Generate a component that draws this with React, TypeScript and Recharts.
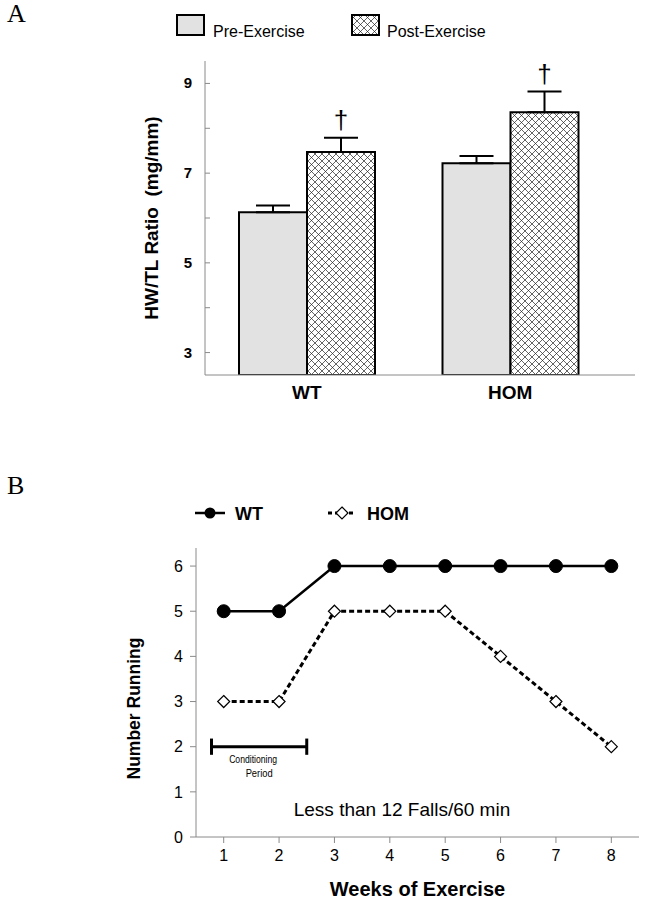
import React from "react";
import {
  BarChart,
  Bar,
  ErrorBar,
  XAxis,
  YAxis,
  LineChart,
  Line,
  ReferenceLine,
  ReferenceDot,
} from "recharts";

// panel A: heart weight / tibia length
const groups = ["WT", "HOM"];
const preExercise = [6.13, 7.22];
const preErr = [0.15, 0.16];
const postExercise = [7.47, 8.36];
const postErr = [0.32, 0.46];
const ratioTicks = [3, 4, 5, 6, 7, 8, 9];
const ratioDomain: [number, number] = [2.5, 9.5];

// panel B: number of mice still running
const weeks = [1, 2, 3, 4, 5, 6, 7, 8];
const wtRunning = [5, 5, 6, 6, 6, 6, 6, 6];
const homRunning = [3, 3, 5, 5, 5, 4, 3, 2];
const countTicks = [0, 1, 2, 3, 4, 5, 6];

const FONT = '"Liberation Sans", Arial, sans-serif';
const FRAME = "#8a8a8a";

const barData = groups.map((g, i) => ({
  group: g,
  pre: preExercise[i],
  preErr: [0, preErr[i]],
  post: postExercise[i],
  postErr: [0, postErr[i]],
}));

const lineData = weeks.map((w, i) => ({ week: w, wt: wtRunning[i], hom: homRunning[i] }));

// left axis of A: inward ticks, labels on odd values only
const RatioTick = (props: any) => {
  const { x, y, payload } = props;
  const axisX = x + 13;
  return (
    <g>
      <line x1={axisX} x2={axisX + 5} y1={y} y2={y} stroke={FRAME} />
      {payload.value % 2 === 1 && (
        <text x={x} y={y} dy={5} textAnchor="end" fontSize={15} fontWeight="bold" fill="#000">
          {payload.value}
        </text>
      )}
    </g>
  );
};

// dagger over the post-exercise error bars
const renderDagger = (props: any) => {
  const vb = props.viewBox ?? props;
  const { x, width } = vb;
  let { y, height } = vb;
  if (height < 0) {
    y = y + height;
    height = -height;
  }
  const i = typeof props.index === "number" ? props.index : postExercise.indexOf(props.value);
  const pxPerUnit = height / (postExercise[i] - ratioDomain[0]);
  const top = y - postErr[i] * pxPerUnit;
  return (
    <text key={`dag-${i}`} x={x + width / 2} y={top - 9} textAnchor="middle" fontSize={26} fill="#000">
      †
    </text>
  );
};

const renderDiamond = (props: any) => {
  const { cx, cy, index } = props;
  if (cx == null || cy == null) return <g key={`dm-${index}`} />;
  const s = 6;
  return (
    <polygon
      key={`dm-${index}`}
      points={`${cx},${cy - s} ${cx + s},${cy} ${cx},${cy + s} ${cx - s},${cy}`}
      fill="#fff"
      stroke="#000"
      strokeWidth={1.2}
    />
  );
};

const renderCondText = (props: any) => {
  const vb = props.viewBox;
  const cx = vb.x + vb.width / 2;
  return (
    <g>
      <text x={cx - 6} y={vb.y + 16} textAnchor="middle" fontSize={11} textLength={48} lengthAdjust="spacingAndGlyphs" fill="#000">
        Conditioning
      </text>
      <text x={cx} y={vb.y + 30} textAnchor="middle" fontSize={11} textLength={27} lengthAdjust="spacingAndGlyphs" fill="#000">
        Period
      </text>
    </g>
  );
};

const renderYLabel = (text: string, dx: number, dy: number, size: number) => (props: any) => {
  const vb = props.viewBox;
  const cx = vb.x + dx;
  const cy = vb.y + vb.height / 2 + dy;
  return (
    <text x={cx} y={cy} transform={`rotate(-90 ${cx} ${cy})`} textAnchor="middle" dominantBaseline="middle" fontSize={size} fontWeight="bold" fill="#000">
      {text}
    </text>
  );
};

const panelLetter = (letter: string, top: number) => (
  <div style={{ position: "absolute", left: 7, top, fontFamily: '"Liberation Serif", "Times New Roman", serif', fontSize: 26, lineHeight: "26px" }}>
    {letter}
  </div>
);

export default function App() {
  return (
    <div style={{ position: "absolute", left: 0, top: 0, width: 646, height: 906, background: "#fff", fontFamily: FONT }}>
      {panelLetter("A", 1)}
      {panelLetter("B", 473)}

      {/* legend A */}
      <svg style={{ position: "absolute", left: 0, top: 0 }} width={646} height={50}>
        <rect x={177} y={15} width={27} height={20} fill="#e2e2e2" stroke="#000" strokeWidth={2} />
        <text x={213} y={37} fontSize={16} fill="#000">Pre-Exercise</text>
        <rect x={352} y={15} width={27} height={20} fill="url(#xhatchLegend)" stroke="#000" strokeWidth={2} />
        <text x={387} y={37} fontSize={16} fill="#000">Post-Exercise</text>
        <defs>
          <pattern id="xhatchLegend" patternUnits="userSpaceOnUse" width={7} height={7}>
            <rect width={7} height={7} fill="#fff" />
            <path d="M-1,-1 L8,8 M8,-1 L-1,8" stroke="#222" strokeWidth={0.7} />
          </pattern>
        </defs>
      </svg>

      <div style={{ position: "absolute", left: 0, top: 0 }}>
        <BarChart width={646} height={420} data={barData} margin={{ top: 61, right: 11, left: 150, bottom: 0 }} barGap={0}>
          <defs>
            <pattern id="xhatch" patternUnits="userSpaceOnUse" width={7} height={7}>
              <rect width={7} height={7} fill="#fff" />
              <path d="M-1,-1 L8,8 M8,-1 L-1,8" stroke="#222" strokeWidth={0.7} />
            </pattern>
          </defs>
          <XAxis
            dataKey="group"
            height={45}
            padding={{ left: 0, right: 23 }}
            tickLine={false}
            tickSize={0}
            tickMargin={11}
            axisLine={{ stroke: FRAME }}
            tick={{ fill: "#000", fontSize: 19, fontWeight: "bold" }}
          />
          <XAxis xAxisId="top" dataKey="group" orientation="top" height={0} tick={false} tickLine={false} axisLine={{ stroke: FRAME }} />
          <YAxis
            width={55}
            type="number"
            domain={ratioDomain}
            allowDataOverflow
            ticks={ratioTicks}
            interval={0}
            tickSize={0}
            tickMargin={13}
            tickLine={false}
            axisLine={{ stroke: FRAME }}
            tick={<RatioTick />}
            label={{ content: renderYLabel("HW/TL Ratio\u00a0 (mg/mm)", 3, 0, 19) }}
          />
          <YAxis yAxisId="right" orientation="right" width={0} type="number" domain={ratioDomain} tick={false} tickLine={false} axisLine={{ stroke: FRAME }} />
          <Bar dataKey="pre" barSize={68} fill="#e2e2e2" stroke="#000" strokeWidth={2} isAnimationActive={false}>
            <ErrorBar dataKey="preErr" width={17} stroke="#000" strokeWidth={2} direction="y" />
          </Bar>
          <Bar dataKey="post" barSize={68} fill="url(#xhatch)" stroke="#000" strokeWidth={2} isAnimationActive={false} label={renderDagger}>
            <ErrorBar dataKey="postErr" width={17} stroke="#000" strokeWidth={2} direction="y" />
          </Bar>
        </BarChart>
      </div>

      {/* legend B */}
      <svg style={{ position: "absolute", left: 0, top: 495 }} width={646} height={40}>
        <line x1={195} x2={225} y1={18} y2={18} stroke="#000" strokeWidth={2.5} />
        <circle cx={210} cy={18} r={5.5} fill="#000" />
        <text x={235} y={25} fontSize={18} fontWeight="bold" fill="#000">WT</text>
        <line x1={328} x2={356} y1={18} y2={18} stroke="#000" strokeWidth={3} strokeDasharray="4 3" />
        <polygon points="342,12 348,18 342,24 336,18" fill="#fff" stroke="#000" strokeWidth={1.2} />
        <text x={367} y={25} fontSize={18} fontWeight="bold" fill="#000">HOM</text>
      </svg>

      <div style={{ position: "absolute", left: 0, top: 420 }}>
        <LineChart width={646} height={486} data={lineData} margin={{ top: 128, right: 7, left: 120, bottom: 0 }}>
          <XAxis
            dataKey="week"
            type="number"
            domain={[0.5, 8.5]}
            allowDataOverflow
            ticks={weeks}
            interval={0}
            height={69}
            tickSize={6}
            tickMargin={7}
            stroke={FRAME}
            tick={{ fill: "#000", fontSize: 16 }}
            label={{ value: "Weeks of Exercise", position: "insideBottom", offset: 10, fontSize: 20, fontWeight: "bold", fill: "#000" }}
          />
          <XAxis xAxisId="top" dataKey="week" type="number" orientation="top" domain={[0.5, 8.5]} height={0} tick={false} tickLine={false} stroke={FRAME} />
          <YAxis
            width={76}
            type="number"
            domain={[0, 6.4]}
            allowDataOverflow
            ticks={countTicks}
            interval={0}
            tickSize={6}
            tickMargin={7}
            stroke={FRAME}
            tick={{ fill: "#000", fontSize: 16 }}
            label={{ content: renderYLabel("Number Running", 15, 16, 17.5) }}
          />
          <YAxis yAxisId="right" orientation="right" width={0} type="number" domain={[0, 6.4]} tick={false} tickLine={false} stroke={FRAME} />
          <ReferenceLine segment={[{ x: 0.78, y: 2 }, { x: 2.5, y: 2 }]} stroke="#000" strokeWidth={3} label={{ content: renderCondText }} />
          <ReferenceLine segment={[{ x: 0.78, y: 1.82 }, { x: 0.78, y: 2.18 }]} stroke="#000" strokeWidth={3} />
          <ReferenceLine segment={[{ x: 2.5, y: 1.82 }, { x: 2.5, y: 2.18 }]} stroke="#000" strokeWidth={3} />
          <ReferenceDot
            x={4.22}
            y={0.61}
            r={0}
            fill="none"
            stroke="none"
            label={{ value: "Less than 12 Falls/60 min", position: "center", fontSize: 19, fill: "#000" }}
          />
          <Line type="linear" dataKey="wt" stroke="#000" strokeWidth={2.5} dot={{ r: 6.5, fill: "#000", stroke: "#000", strokeWidth: 1 }} isAnimationActive={false} />
          <Line type="linear" dataKey="hom" stroke="#000" strokeWidth={3} strokeDasharray="5 3" dot={renderDiamond} isAnimationActive={false} />
        </LineChart>
      </div>
    </div>
  );
}
